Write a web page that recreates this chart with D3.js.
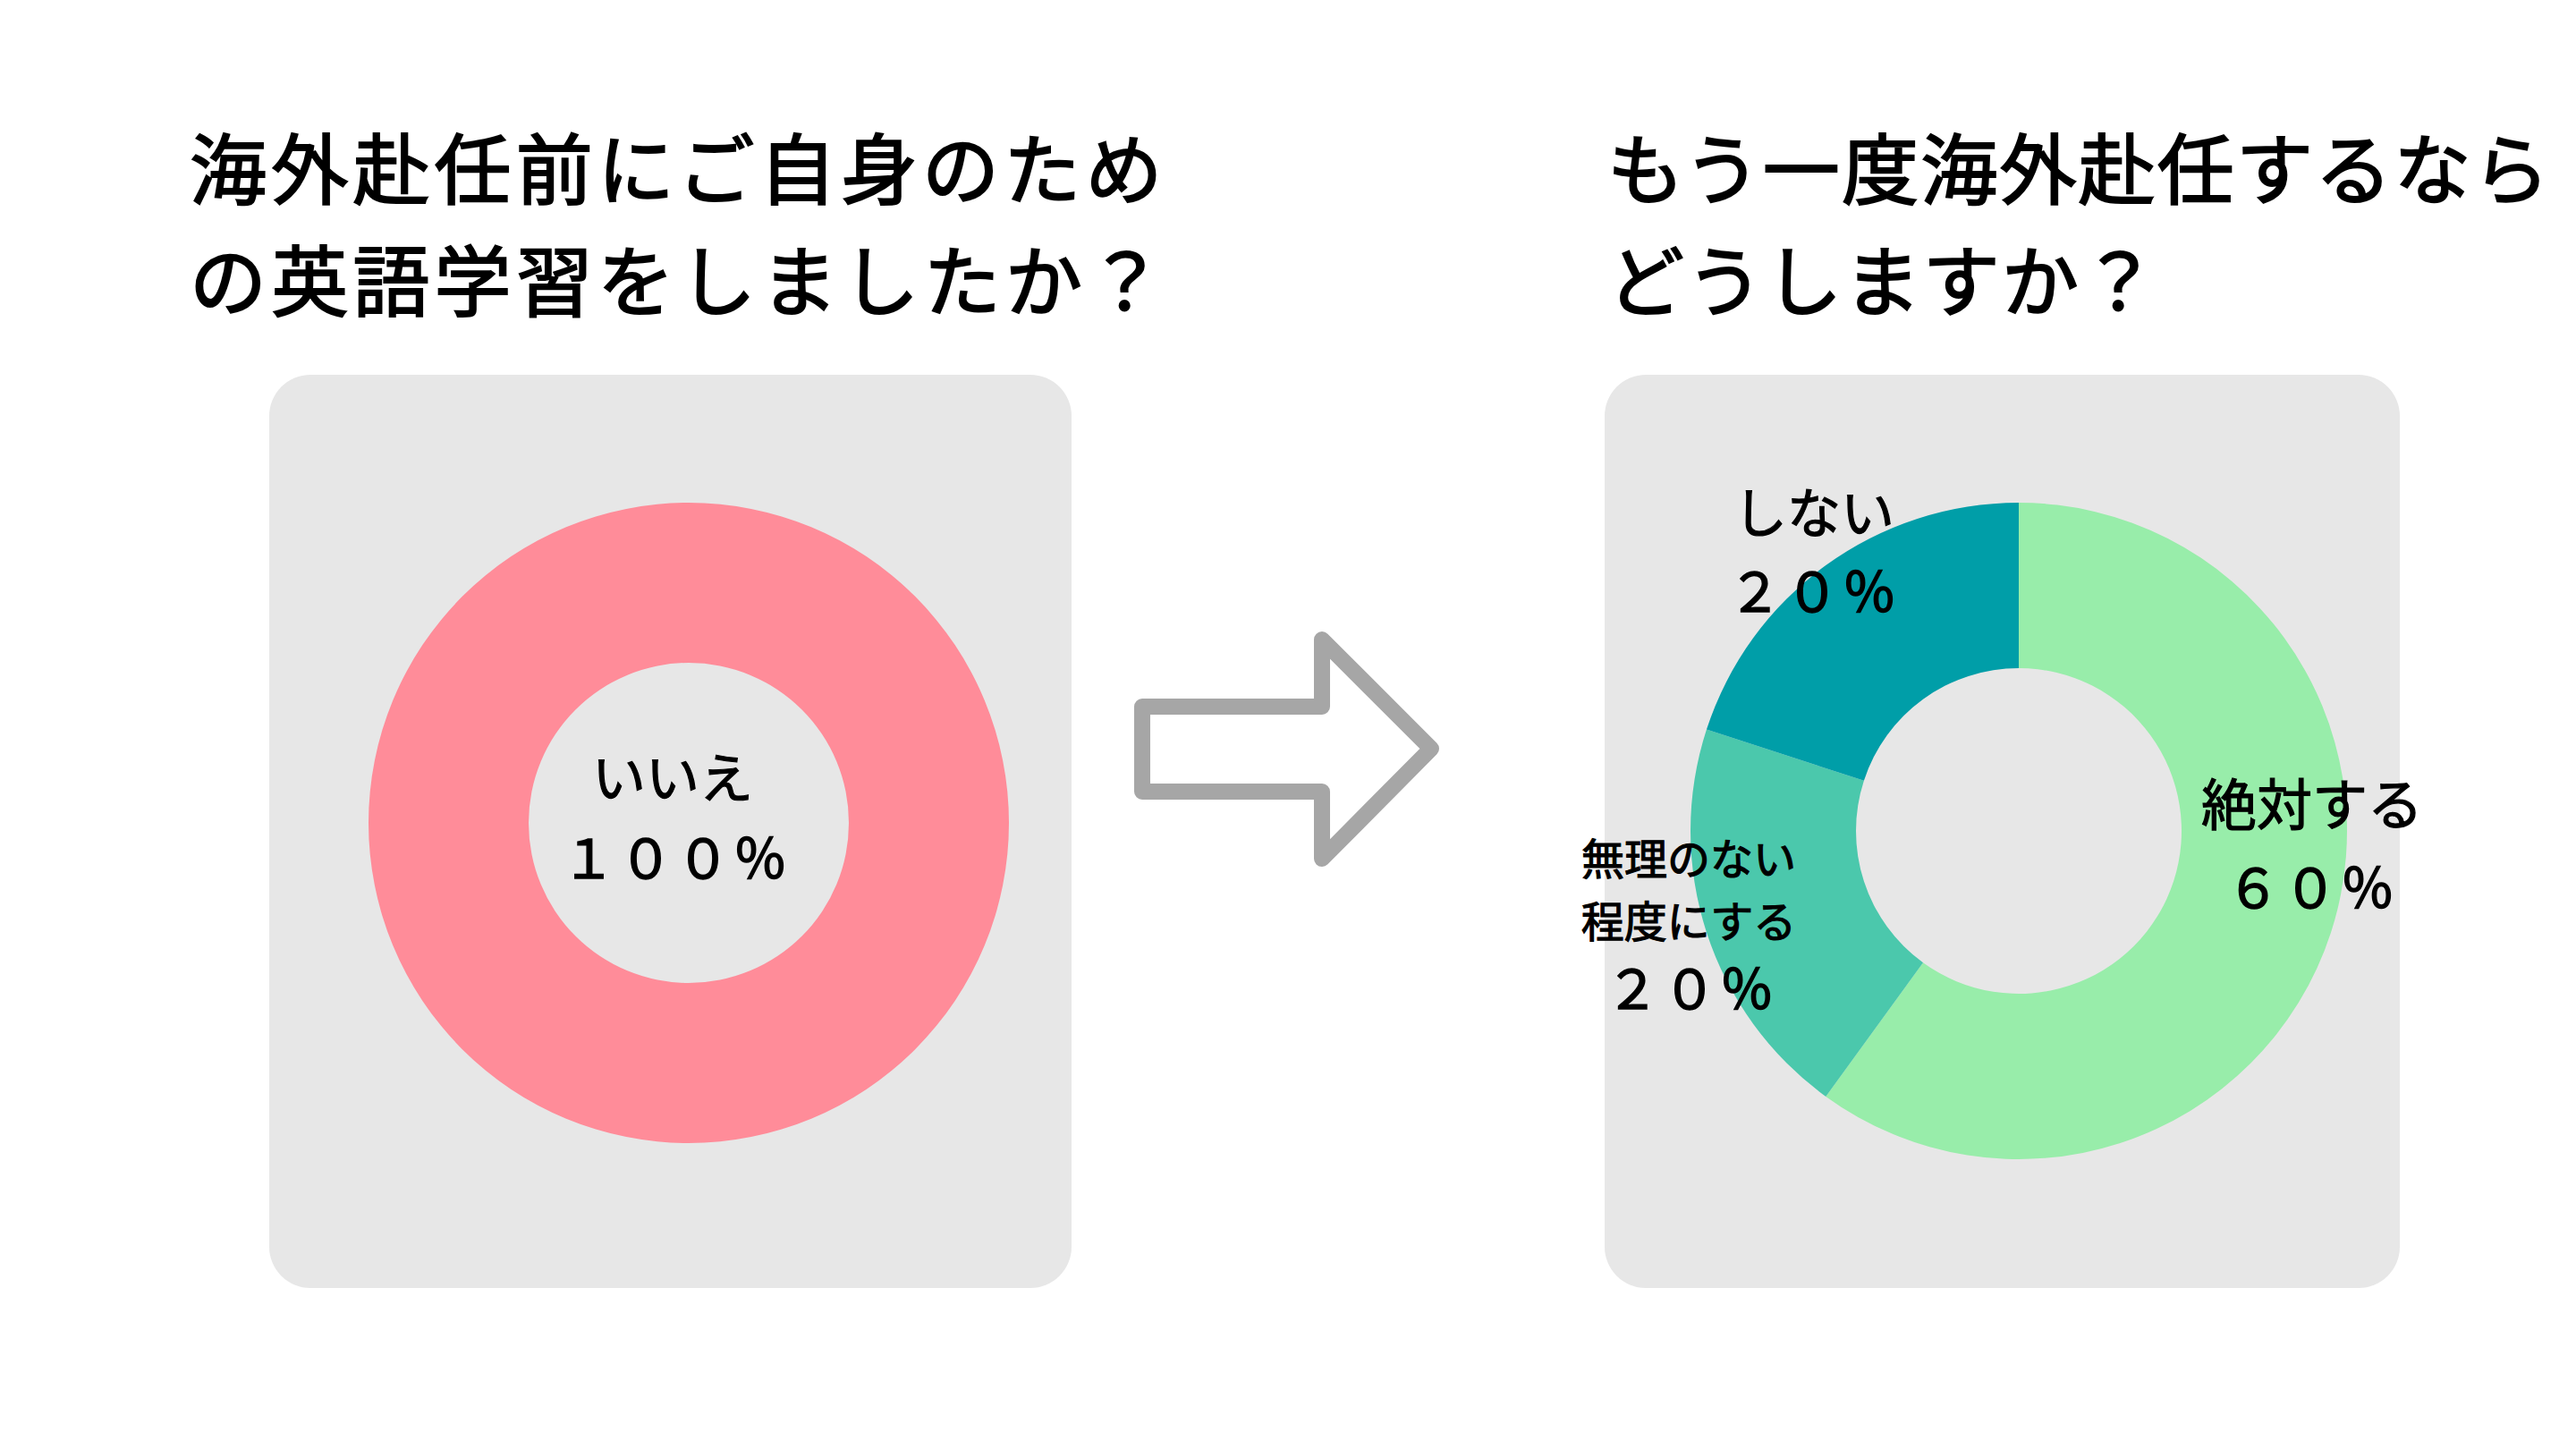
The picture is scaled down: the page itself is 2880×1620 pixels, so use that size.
<!DOCTYPE html>
<html>
<head>
<meta charset="utf-8">
<script src="https://cdn.jsdelivr.net/npm/d3@7"></script>
<style>
  body { margin: 0; background: #fff; }
  text { font-family: "Noto Sans CJK JP", "Noto Sans", sans-serif; fill: #000; stroke: #000; }
</style>
</head>
<body>
<div class="chart"></div>
<script>
// left question
const leftTitle = ["海外赴任前にご自身のため", "の英語学習をしましたか？"];
const leftLabels = ["いいえ"];
const leftValues = [100];
const leftPct = ["１００％"];
const leftColors = ["#FF8C99"];

// right question
const rightTitle = ["もう一度海外赴任するなら", "どうしますか？"];
const rightLabels = [["絶対する"], ["無理のない", "程度にする"], ["しない"]];
const rightValues = [60, 20, 20];
const rightPct = ["６０％", "２０％", "２０％"];
const rightColors = ["#98EDAA", "#4BC8AC", "#009EA8"];

const width = 2880, height = 1620;

const svg = d3.select(".chart").append("svg")
  .attr("width", width)
  .attr("height", height);

// titles
function title(lines, x, spacing) {
  svg.append("g").selectAll("text")
    .data(lines)
    .enter()
    .append("text")
    .attr("x", x)
    .attr("y", (d, i) => 222 + i * 125)
    .attr("font-size", 86)
    .attr("letter-spacing", spacing)
    .attr("stroke-width", 2)
    .text(d => d);
}
title(leftTitle, 212, 5.2);
title(rightTitle, 1797, 2.2);

// grey panels
svg.append("rect")
  .attr("x", 301).attr("y", 419)
  .attr("width", 897).attr("height", 1021)
  .attr("rx", 46)
  .attr("fill", "#E7E7E7");

svg.append("rect")
  .attr("x", 1794).attr("y", 419)
  .attr("width", 889).attr("height", 1021)
  .attr("rx", 46)
  .attr("fill", "#E7E7E7");

const pie = d3.pie().sort(null);

// left donut
const leftArc = d3.arc().innerRadius(179).outerRadius(358);
const gl = svg.append("g").attr("transform", "translate(770,920)");
gl.selectAll("path")
  .data(pie(leftValues))
  .enter()
  .append("path")
  .attr("d", leftArc)
  .attr("fill", (d, i) => leftColors[i]);

gl.append("text")
  .attr("text-anchor", "middle")
  .attr("x", -18).attr("y", -28)
  .attr("font-size", 60)
  .attr("stroke-width", 1.2)
  .text(leftLabels[0]);
gl.append("text")
  .attr("text-anchor", "middle")
  .attr("x", -14).attr("y", 62)
  .attr("font-size", 60)
  .attr("letter-spacing", 4)
  .attr("stroke-width", 1.5)
  .text(leftPct[0]);

// right donut
const rightArc = d3.arc().innerRadius(182).outerRadius(367);
const gr = svg.append("g").attr("transform", "translate(2257,929)");
gr.selectAll("path")
  .data(pie(rightValues))
  .enter()
  .append("path")
  .attr("d", rightArc)
  .attr("fill", (d, i) => rightColors[i]);

// label positions relative to donut center; pct offsets relative to label
const labelPos = [
  {x: 328, y: -6, size: 62, lh: 0, pctDy: 92, pctX: 328},
  {x: -369, y: 49, size: 48, lh: 70, pctDy: 150, pctX: -366},
  {x: -229, y: -333, size: 60, lh: 0, pctDy: 88, pctX: -229}
];

rightLabels.forEach((lines, i) => {
  const p = labelPos[i];
  const g = gr.append("g");
  lines.forEach((t, j) => {
    g.append("text")
      .attr("text-anchor", "middle")
      .attr("x", p.x)
      .attr("y", p.y + j * p.lh)
      .attr("font-size", p.size)
      .attr("stroke-width", 1.2)
      .text(t);
  });
  g.append("text")
    .attr("text-anchor", "middle")
    .attr("x", p.pctX)
    .attr("y", p.y + p.pctDy)
    .attr("font-size", 60)
    .attr("letter-spacing", 4)
    .attr("stroke-width", 1.5)
    .text(rightPct[i]);
});

// arrow
const arrowPts = [[1277, 790], [1478, 790], [1478, 715], [1600, 837], [1478, 960], [1478, 885], [1277, 885]];
svg.append("path")
  .attr("d", d3.line()(arrowPts) + "Z")
  .attr("fill", "#fff")
  .attr("stroke", "#A6A6A6")
  .attr("stroke-width", 18)
  .attr("stroke-linejoin", "round");
</script>
</body>
</html>
